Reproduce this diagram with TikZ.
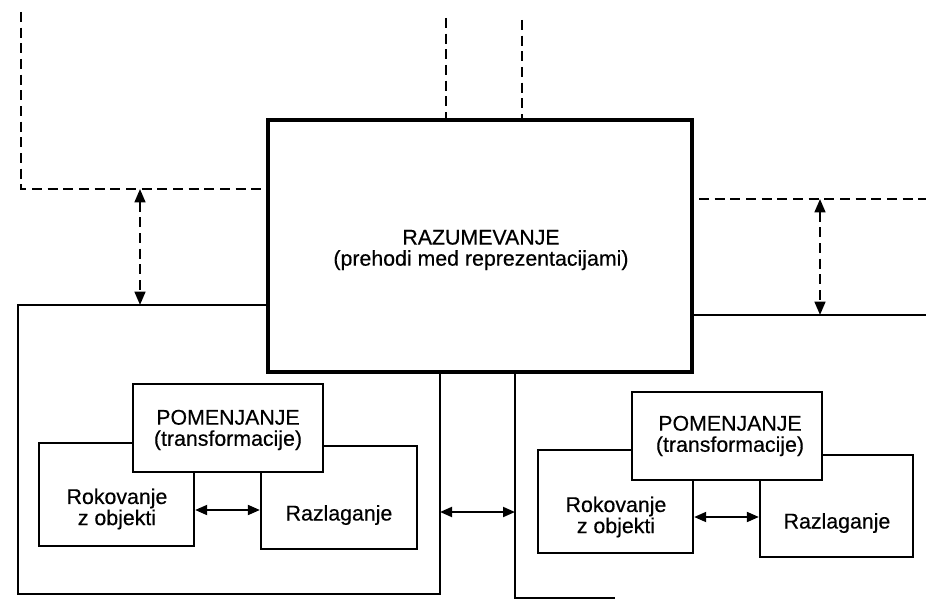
\documentclass[tikz,border=0pt]{standalone}
\usepackage{fontspec}
\setmainfont{Liberation Sans}[FakeBold=0.4]
\usetikzlibrary{arrows.meta,fit}
\begin{document}
\begin{tikzpicture}[x=0.03cm,y=-0.03cm,
  box/.style={draw,fill=white,line width=2pt,inner sep=0pt},
  mainbox/.style={box,line width=4pt},
  txt/.style={align=center,font=\fontsize{18.2pt}{18pt}\selectfont,inner sep=0pt},
  thinline/.style={line width=2pt},
  dashline/.style={line width=2pt,dash pattern=on 0.3cm off 0.17cm},
  dblarrow/.style={line width=1.6pt,{Triangle[length=0.36cm,width=0.3cm]}-{Triangle[length=0.36cm,width=0.3cm]}},
  dashdbl/.style={dashline,{Triangle[length=0.4cm,width=0.32cm]}-{Triangle[length=0.4cm,width=0.32cm]}}]

\useasboundingbox (0,0) rectangle (926,599);

% central block
\node[mainbox,fit={(268,120) (692,372)}] (razum) {};
\node[txt] (razumT) at (481,250) {RAZUMEVANJE\\(prehodi med reprezentacijami)};

% dashed upper regions
\coordinate (dlTop) at (21,12);
\coordinate (dlCorner) at (21,189);
\draw[dashline] (dlTop) -- (dlCorner) -- (dlCorner -| razum.west);

\coordinate (dA) at (446,18);
\coordinate (dB) at (522,20);
\draw[dashline] (dA) -- (dA |- razum.north);
\draw[dashline] (dB) -- (dB |- razum.north);

\coordinate (drStart) at (699,199);
\coordinate (drEnd) at (926,199);
\draw[dashline] (drStart) -- (drEnd);

% left panel
\coordinate (lpTL) at (18,305);
\coordinate (lpBL) at (18,594);
\coordinate (lpBR) at (440,594);
\draw[thinline] (lpTL -| razum.west) -- (lpTL) -- (lpBL) -- (lpBR) -- (lpBR |- razum.south);

% right panel
\coordinate (rpTR) at (926,315);
\coordinate (rpBL) at (515,598);
\coordinate (rpBE) at (615,598);
\draw[thinline] (rpTR -| razum.east) -- (rpTR);
\draw[thinline] (rpBL |- razum.south) -- (rpBL) -- (rpBE);

% arrows between regions
\coordinate (aL) at (140,0);
\draw[dashdbl] (aL |- dlCorner) -- (aL |- lpTL);
\coordinate (aR) at (820,0);
\draw[dashdbl] (aR |- drStart) -- (aR |- rpTR);
\coordinate (pa) at (0,512);
\draw[dblarrow] (pa -| lpBR) -- (pa -| rpBL);

% left group
\node[box,fit={(39,443) (194,546)}] (rokL) {};
\node[box,fit={(261,446) (417,549)}] (razL) {};
\node[box,fit={(133,384) (323,472)}] (pomL) {};
\node[txt] (pomLT) at (228,430) {POMENJANJE\\(transformacije)};
\node[txt] (rokLT) at (117,509) {Rokovanje\\z objekti};
\node[txt] (razLT) at (339,515) {Razlaganje};
\coordinate (ia) at (0,510);
\draw[dblarrow] (ia -| rokL.east) -- (ia -| razL.west);

% right group
\node[box,fit={(538,450) (693,553)}] (rokR) {};
\node[box,fit={(760,455) (913,557)}] (razR) {};
\node[box,fit={(632,392) (822,480)}] (pomR) {};
\node[txt] (pomRT) at (730,436) {POMENJANJE\\(transformacije)};
\node[txt] (rokRT) at (616,517) {Rokovanje\\z objekti};
\node[txt] (razRT) at (837,523) {Razlaganje};
\coordinate (ib) at (0,517);
\draw[dblarrow] (ib -| rokR.east) -- (ib -| razR.west);
\end{tikzpicture}
\end{document}
